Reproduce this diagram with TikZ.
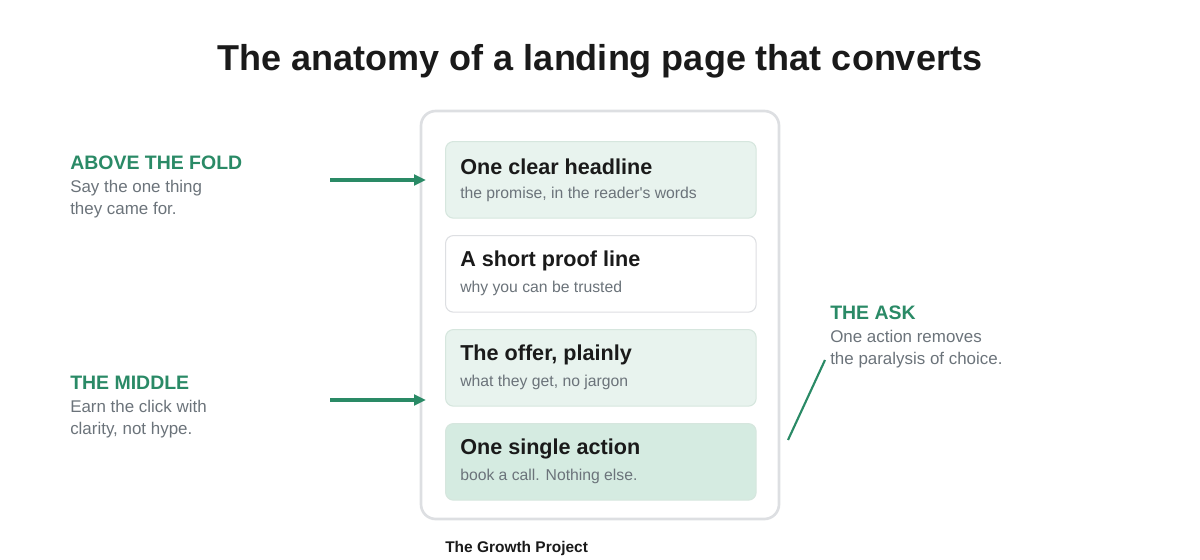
\documentclass[tikz,border=0pt]{standalone}
\usepackage{fontspec}
\setmainfont{Liberation Sans}
\usetikzlibrary{positioning,arrows.meta}
\definecolor{accent}{HTML}{2A8A66}
\definecolor{ink}{HTML}{1A1A1A}
\definecolor{muted}{HTML}{6B737A}
\definecolor{frameline}{HTML}{DDDFE2}
\definecolor{softfill}{HTML}{E8F3EE}
\definecolor{strongfill}{HTML}{D5EBE1}
\definecolor{softline}{HTML}{D6E6DE}
\tikzset{
  block/.style={draw=softline, line width=0.8pt, rounded corners=6pt, minimum width=233pt, minimum height=57.5pt, anchor=north west},
  head/.style={anchor=west, font=\fontsize{16.2}{19}\selectfont\bfseries, text=ink, inner sep=0pt},
  sub/.style={anchor=west, font=\fontsize{11.8}{14}\selectfont, text=muted, inner sep=0pt},
  tag/.style={anchor=west, font=\fontsize{14.6}{17}\selectfont\bfseries, text=accent, inner sep=0pt},
  note/.style={anchor=north west, align=left, font=\fontsize{12.7}{16.5}\selectfont, text=muted, inner sep=0pt},
  pointer/.style={draw=accent, line width=2.4pt, -{Triangle[length=9pt,width=8pt]}}
}
\begin{document}
\begin{tikzpicture}[x=0.75pt, y=-0.75pt]
\useasboundingbox (0,0) rectangle (1200,560);

\node[font=\fontsize{27}{32}\selectfont\bfseries, text=ink] (title) at (600,61) {The anatomy of a landing page that converts};

% the page
\draw[frameline, line width=2pt, rounded corners=11pt] (421,111) rectangle (779,519);
\node[block, fill=softfill] (b1) at (445,141) {};
\node[block, fill=white, draw=frameline] (b2) at (445,235) {};
\node[block, fill=softfill] (b3) at (445,329) {};
\node[block, fill=strongfill] (b4) at (445,423) {};

\node[head] (h1) at (460,167) {One clear headline};
\node[sub] (s1) at (460,194) {the promise, in the reader\textquotesingle s words};
\node[head] (h2) at (460,261) {A short proof line};
\node[sub] (s2) at (460,288) {why you can be trusted};
\node[head] (h3) at (460,355) {The offer, plainly};
\node[sub] (s3) at (460,382) {what they get, no jargon};
\node[head] (h4) at (460,449) {One single action};
\node[sub] (s4) at (460,476) {book a call. Nothing else.};

\node[font=\fontsize{11.6}{13}\selectfont\bfseries, text=ink, anchor=west, inner sep=0pt] (brand) at (445,548) {The Growth Project};

% callouts
\node[tag] (t1) at (70,163) {ABOVE THE FOLD};
\node[note] (n1) at (70,180) {Say the one thing\\they came for.};
\node[tag] (t2) at (70,383) {THE MIDDLE};
\node[note] (n2) at (70,400) {Earn the click with\\clarity, not hype.};
\node[tag] (t3) at (830,313) {THE ASK};
\node[note] (n3) at (830,330) {One action removes\\the paralysis of choice.};

\coordinate (a1) at (330,180);
\coordinate (e1) at (426,180);
\coordinate (a2) at (330,400);
\coordinate (e2) at (426,400);
\coordinate (a3) at (825,360);
\coordinate (e3) at (788,440);
\draw[pointer] (a1) -- (e1);
\draw[pointer] (a2) -- (e2);
\draw[accent, line width=1.6pt] (a3) -- (e3);
\end{tikzpicture}
\end{document}
